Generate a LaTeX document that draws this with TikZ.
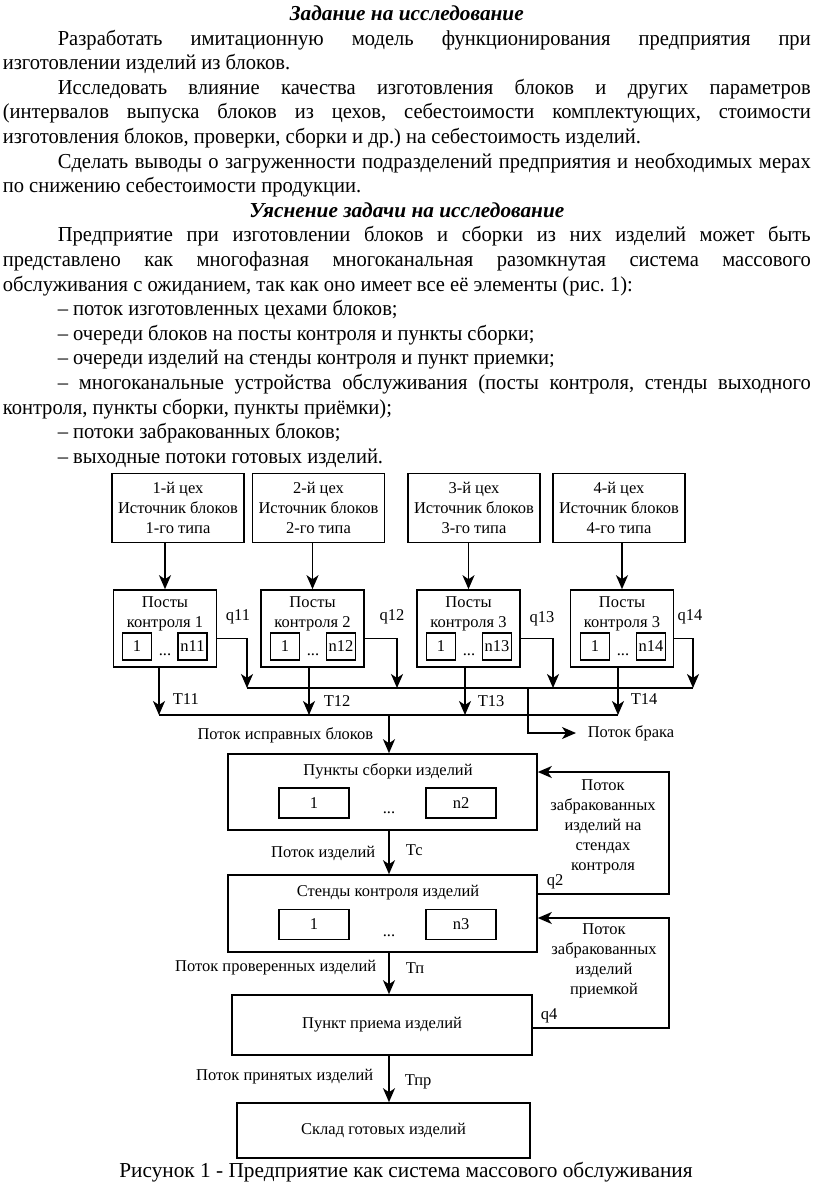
\documentclass[tikz,border=0pt]{standalone}
\usepackage{fontspec}
\setmainfont{Liberation Serif}
\newfontfamily\bodyfont{Liberation Serif}[FakeStretch=0.965]
\usetikzlibrary{arrows.meta}
\usetikzlibrary{positioning}

\tikzset{
	diag/.style = {font=\fontsize{16.5}{20}\selectfont},
	lbl/.style = {diag, inner sep=0pt, align=center},
	srcbox/.style = {diag, draw, align=center, inner sep=0pt, minimum width=132pt, minimum height=69pt},
	ctlbox/.style = {draw, inner sep=0pt, minimum width=103pt, minimum height=77pt},
	cellbox/.style = {diag, draw, inner sep=0pt, minimum width=29pt, minimum height=27pt},
	bigbox/.style = {diag, draw, inner sep=0pt, minimum width=309pt, minimum height=76pt},
	slotbox/.style = {diag, draw, inner sep=0pt, minimum width=70pt, minimum height=30pt},
	textblock/.style = {font=\bodyfont\fontsize{21.3}{24.6}\selectfont, inner sep=0pt, text width=808pt, align=justify}
}

\begin{document}
\begin{tikzpicture}[x=1pt, y=-1pt, line width=1.6pt, >={Stealth[length=14pt, width=12pt, inset=4pt]}]
		\useasboundingbox (0,0) rectangle (816,1186);
		% text above the figure
		\node[textblock, anchor=north west] (body) at (2,5) {\hyphenpenalty=10000 \exhyphenpenalty=10000 \frenchspacing
			\noindent{\centering\normalfont\bfseries\itshape Задание на исследование\par}
			\setlength{\parindent}{55pt}%
			Разработать имитационную модель функционирования предприятия при\linebreak изготовлении изделий из блоков.\par
			Исследовать влияние качества изготовления блоков и других параметров\linebreak (интервалов выпуска блоков из цехов, себестоимости комплектующих, стоимости\linebreak изготовления блоков, проверки, сборки и др.) на себестоимость изделий.\par
			Сделать выводы о загруженности подразделений предприятия и необходимых мерах\linebreak по снижению себестоимости продукции.\par
			\noindent{\centering\normalfont\bfseries\itshape Уяснение задачи на исследование\par}
			Предприятие при изготовлении блоков и сборки из них изделий может быть\linebreak представлено как многофазная многоканальная разомкнутая система массового\linebreak обслуживания с ожиданием, так как оно имеет все её элементы (рис.~1):\par
			– поток изготовленных цехами блоков;\par
			– очереди блоков на посты контроля и пункты сборки;\par
			– очереди изделий на стенды контроля и пункт приемки;\par
			– многоканальные устройства обслуживания (посты контроля, стенды выходного\linebreak контроля, пункты сборки, пункты приёмки);\par
			– потоки забракованных блоков;\par
			– выходные потоки готовых изделий.\par};

		% sources
		\node[srcbox] (src1) at (178,508) {1-й цех\\Источник блоков\\1-го типа};
		\node[srcbox] (src2) at (318.5,508) {2-й цех\\Источник блоков\\2-го типа};
		\node[srcbox] (src3) at (474,508) {3-й цех\\Источник блоков\\3-го типа};
		\node[srcbox] (src4) at (619,508) {4-й цех\\Источник блоков\\4-го типа};

		% control posts
		\node[ctlbox] (ctl1) at (165,628.5) {};
		\node[ctlbox] (ctl2) at (312.5,628.5) {};
		\node[ctlbox] (ctl3) at (468.5,628.5) {};
		\node[ctlbox] (ctl4) at (622,628.5) {};
		\node[lbl] (ctl1t) at (165,614) {Посты\\контроля 1};
		\node[lbl] (ctl2t) at (312.5,614) {Посты\\контроля 2};
		\node[lbl] (ctl3t) at (468.5,614) {Посты\\контроля 3};
		\node[lbl] (ctl4t) at (622,614) {Посты\\контроля 3};
		\node[cellbox] (ctl1a) at (137,646.5) {1};
		\node[cellbox] (ctl1n) at (192.5,646.5) {n11};
		\node[cellbox] (ctl2a) at (285,646.5) {1};
		\node[cellbox] (ctl2n) at (341,646.5) {n12};
		\node[cellbox] (ctl3a) at (441,646.5) {1};
		\node[cellbox] (ctl3n) at (497,646.5) {n13};
		\node[cellbox] (ctl4a) at (595,646.5) {1};
		\node[cellbox] (ctl4n) at (651,646.5) {n14};
		\node[lbl, anchor=base] at (165,655) {...};
		\node[lbl, anchor=base] at (313,655) {...};
		\node[lbl, anchor=base] at (469,655) {...};
		\node[lbl, anchor=base] at (623,655) {...};
		\node[lbl] (q11) at (238,617) {q11};
		\node[lbl] (q12) at (392,617) {q12};
		\node[lbl] (q13) at (542,619) {q13};
		\node[lbl] (q14) at (690,617) {q14};
		\node[lbl, anchor=west] (t11) at (172,699) {T11};
		\node[lbl, anchor=west] (t12) at (323,701) {T12};
		\node[lbl, anchor=west] (t13) at (477,701) {T13};
		\node[lbl, anchor=west] (t14) at (630,699) {T14};

		\draw[->] (src1.south -| ctl1.north) -- (ctl1.north);
		\draw[->] (src2.south -| ctl2.north) -- (ctl2.north);
		\draw[->] (src3.south -| ctl3.north) -- (ctl3.north);
		\draw[->] (src4.south -| ctl4.north) -- (ctl4.north);

		% reject bus and good bus
		\coordinate (r1) at (247,688);
		\coordinate (r2) at (397,688);
		\coordinate (r3) at (553,688);
		\coordinate (r4) at (693,688);
		\coordinate (rb) at (528,688);
		\coordinate (g1) at (159,715);
		\coordinate (g2) at (309,715);
		\coordinate (g3) at (465,715);
		\coordinate (g4) at (618,715);
		\coordinate (f0) at (389,715);
		\draw[->] ([yshift=-10pt]ctl1.east) -| (r1);
		\draw[->] ([yshift=-10pt]ctl2.east) -| (r2);
		\draw[->] ([yshift=-10pt]ctl3.east) -| (r3);
		\draw[->] ([yshift=-10pt]ctl4.east) -| (r4);
		\draw (r1) -- (r4);
		\draw[->] (g1 |- ctl1.south) -- (g1);
		\draw[->] (g2 |- ctl2.south) -- (g2);
		\draw[->] (g3 |- ctl3.south) -- (g3);
		\draw[->] (g4 |- ctl4.south) -- (g4);
		\draw (g1) -- (g4);
		\node[lbl, anchor=west] (brak) at (587,733) {Поток брака};
		\draw[->] (rb) |- ([xshift=-11pt]brak.west);
		\node[lbl, anchor=east] (goodt) at (374,735) {Поток исправных блоков};

		% assembly, test stands, acceptance, store
		\node[bigbox] (asm) at (382.5,792) {};
		\node[lbl] (asmt) at (388,771) {Пункты сборки изделий};
		\node[slotbox] (asm1) at (314,803) {1};
		\node[slotbox] (asm2) at (461,803) {n2};
		\node[lbl, anchor=base] at (389,813) {...};
		\node[bigbox, minimum height=77pt] (std) at (382.5,913.5) {};
		\node[lbl] (stdt) at (388,893) {Стенды контроля изделий};
		\node[slotbox] (std1) at (314,924.5) {1};
		\node[slotbox] (std2) at (461,924.5) {n3};
		\node[lbl, anchor=base] at (389,936) {...};
		\node[bigbox, minimum width=300pt, minimum height=60pt] (acc) at (382,1025) {Пункт приема изделий};
		\node[bigbox, minimum width=293pt, minimum height=55pt] (wh) at (383.5,1130.5) {Склад готовых изделий};

		\draw[->] (f0) -- (f0 |- asm.north);
		\draw[->] (asm.south -| f0) -- (std.north -| f0);
		\draw[->] (std.south -| f0) -- (acc.north -| f0);
		\draw[->] (acc.south -| f0) -- (wh.north -| f0);
		\node[lbl, anchor=east] (flow1) at (376,853) {Поток изделий};
		\node[lbl, anchor=west] (tc) at (405,850) {Тс};
		\node[lbl, anchor=east] (flow2) at (377,968) {Поток проверенных изделий};
		\node[lbl, anchor=west] (tp) at (405,968) {Тп};
		\node[lbl, anchor=east] (flow3) at (374,1077) {Поток принятых изделий};
		\node[lbl, anchor=west] (tpr) at (404,1082) {Тпр};

		% returns
		\draw[->] ([yshift=19.5pt]std.east) -- ++(131,0) |- ([yshift=20pt]asm.east);
		\draw[->] ([yshift=-3pt]acc.east) -- ++(136,0) |- ([yshift=-4.5pt]std.east);
		\node[lbl] (fb1t) at (603,827) {Поток\\забракованных\\изделий на\\стендах\\контроля};
		\node[lbl] (fb2t) at (604,961) {Поток\\забракованных\\изделий\\приемкой};
		\node[lbl] (q2) at (555,882) {q2};
		\node[lbl] (q4) at (549,1016) {q4};

		\node[anchor=base, inner sep=0pt, font=\fontsize{21.3}{24.6}\selectfont] (cap) at (406,1177) {Рисунок 1 - Предприятие как система массового обслуживания};
	\end{tikzpicture}
\end{document}
